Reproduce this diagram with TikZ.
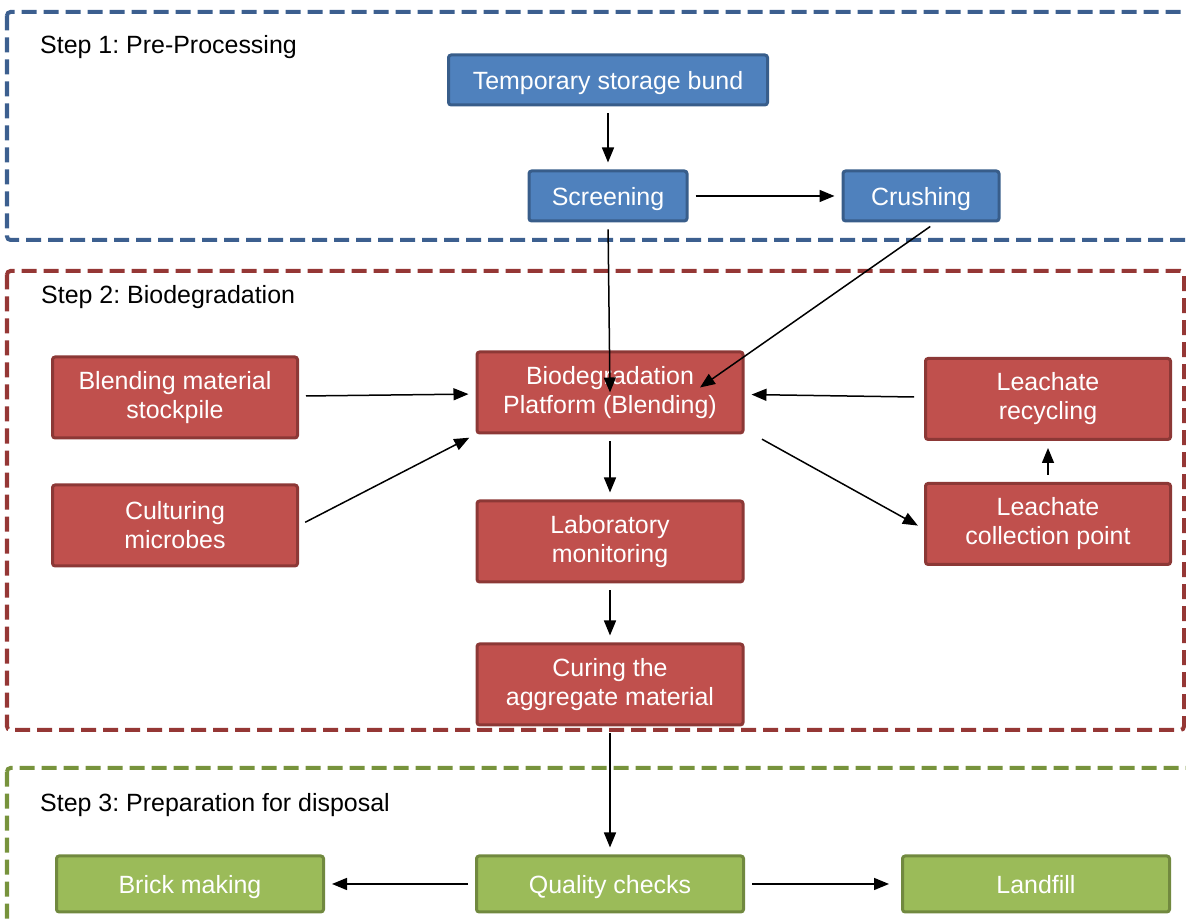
\documentclass[tikz,border=0pt]{standalone}
\usepackage{fontspec}
\setmainfont{Liberation Sans}
\frenchspacing
\usetikzlibrary{
  arrows.meta,
  positioning
}
\definecolor{preblue}{RGB}{79,129,189}
\definecolor{preblueline}{RGB}{56,93,138}
\definecolor{biored}{RGB}{192,80,77}
\definecolor{bioredline}{RGB}{140,56,54}
\definecolor{dispgreen}{RGB}{155,187,89}
\definecolor{dispgreenline}{RGB}{113,137,63}
\definecolor{frameblue}{RGB}{60,95,143}
\definecolor{framered}{RGB}{149,55,53}
\definecolor{framegreen}{RGB}{119,147,60}
\tikzset{
  basebox/.style={draw, line width=0.06cm, rounded corners=1.5pt,
    text=white, align=center, inner sep=0pt,
    font=\fontsize{14.2}{16.5}\selectfont},
  prebox/.style={basebox, fill=preblue, draw=preblueline,
    minimum height=1.0cm, text height=0.44cm, text depth=0.06cm},
  biobox/.style={basebox, fill=biored, draw=bioredline,
    minimum width=4.9cm, minimum height=1.62cm},
  dispbox/.style={basebox, fill=dispgreen, draw=dispgreenline,
    minimum width=5.34cm, minimum height=1.12cm,
    text height=0.44cm, text depth=0.06cm},
  stepframe/.style={line width=0.08cm, dash pattern=on 0.3cm off 0.14cm,
    rounded corners=2pt},
  steplabel/.style={anchor=west, font=\fontsize{14.2}{16.5}\selectfont},
  arr/.style={-{Triangle[length=0.3cm, width=0.24cm]}, line width=0.03cm,
    shorten >=0.14cm, shorten <=0.14cm},
}

\begin{document}
\begin{tikzpicture}
  \useasboundingbox (0,0) rectangle (23.72,18.4);

  % step frames
  \draw[stepframe, draw=frameblue] (0.14,18.16) rectangle (23.9,13.6);
  \draw[stepframe, draw=framered] (0.14,12.98) rectangle (23.68,3.8);
  \draw[stepframe, draw=framegreen] (0.14,3.04) rectangle (23.9,-0.4);

  \node[steplabel] (lblpre) at (0.68,17.46) {Step 1: Pre-Processing};
  \node[steplabel] (lblbio) at (0.70,12.46) {Step 2: Biodegradation};
  \node[steplabel] (lbldisp) at (0.68,2.3) {Step 3: Preparation for disposal};

  % Step 1
  \node[prebox, minimum width=6.38cm] (tsb) at (12.16,16.8) {Temporary storage bund};
  \node[prebox, minimum width=3.16cm, below=1.26cm of tsb] (scr) {Screening};
  \node[prebox, minimum width=3.12cm, right=3.06cm of scr] (cru) {Crushing};

  % Step 2
  \node[biobox, minimum width=5.32cm] (bio) at (12.2,10.55)
    {Biodegradation\\Platform (Blending)};
  \node[biobox, minimum width=5.32cm, below=1.3cm of bio] (lab)
    {Laboratory\\monitoring};
  \node[biobox, minimum width=5.32cm, below=1.18cm of lab] (cur)
    {Curing the\\aggregate material};
  \node[biobox] (bms) at (3.5,10.45) {Blending material\\stockpile};
  \node[biobox, below=0.88cm of bms] (cul) {Culturing\\microbes};
  \node[biobox] (lrc) at (20.96,10.42) {Leachate\\recycling};
  \node[biobox, below=0.82cm of lrc] (lcp) {Leachate\\collection point};

  % Step 3
  \node[dispbox] (qc) at (12.2,0.72) {Quality checks};
  \node[dispbox, left=3.0cm of qc] (brk) {Brick making};
  \node[dispbox, right=3.12cm of qc] (lf) {Landfill};

  % connectors
  \draw[arr] (tsb) -- (scr);
  \draw[arr] (scr) -- (cru);
  \draw[arr, shorten >=0pt] (scr.south) -- (bio.center);
  \draw[arr, shorten >=0pt] ([xshift=0.3cm]cru.south) -- ([xshift=1.8cm,yshift=0.1cm]bio.center);
  \draw[arr] (bms) -- (bio);
  \draw[arr] (cul.east) -- (bio.south west);
  \draw[arr, shorten <=0.2cm] (lrc) -- (bio);
  \draw[arr, shorten <=0.4cm] ([yshift=0.1cm]bio.south east) -- ([yshift=-0.1cm]lcp.west);
  \draw[arr] (lcp) -- (lrc);
  \draw[arr] (bio) -- (lab);
  \draw[arr] (lab) -- (cur);
  \draw[arr] (cur) -- (qc);
  \draw[arr] (qc) -- (brk);
  \draw[arr, shorten >=0.24cm] (qc) -- (lf);
\end{tikzpicture}
\end{document}
